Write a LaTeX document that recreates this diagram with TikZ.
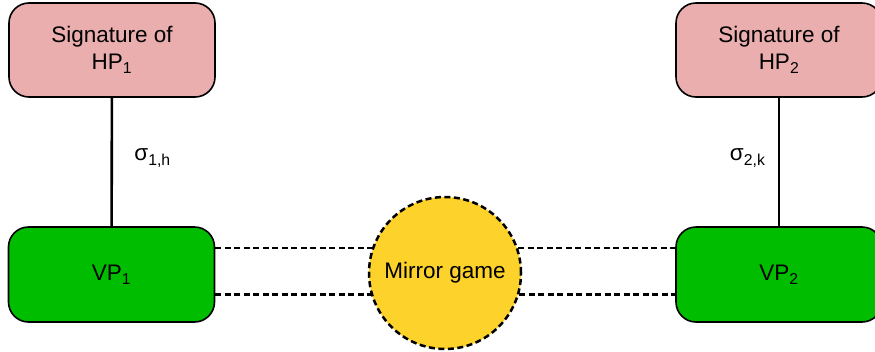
\documentclass[tikz,border=0pt]{standalone}
\usepackage{fontspec}
\setmainfont{Liberation Sans}
\definecolor{sigpink}{RGB}{234,174,174}
\definecolor{vpgreen}{RGB}{0,189,0}
\definecolor{mgyellow}{RGB}{253,210,42}
\begin{document}
\begin{tikzpicture}[x=1pt,y=-1pt,
  sigbox/.style={draw=black,line width=1.6pt,fill=sigpink,rounded corners=20pt,minimum width=206pt,minimum height=94pt,align=center,font=\fontsize{22.5}{27}\selectfont},
  vpbox/.style={draw=black,line width=1.6pt,fill=vpgreen,rounded corners=20pt,minimum width=206pt,minimum height=95pt,font=\fontsize{22.5}{27}\selectfont},
  mgcircle/.style={circle,draw=black,line width=2.5pt,dash pattern=on 6pt off 3.5pt,fill=mgyellow,minimum size=152pt,inner sep=0pt,font=\fontsize{22.5}{27}\selectfont},
  link/.style={draw=black,line width=2.6pt},
  dlink/.style={draw=black,line width=2.5pt,dash pattern=on 6pt off 3.5pt},
  siglabel/.style={font=\fontsize{22.5}{27}\selectfont}]
\useasboundingbox (0,0) rectangle (875,351);
\node[sigbox] (hp1) at (112,50) {Signature of\\HP\textsubscript{1}};
\node[sigbox] (hp2) at (779,50) {Signature of\\HP\textsubscript{2}};
\node[vpbox] (vp1) at (111.5,274.5) {VP\textsubscript{1}};
\node[vpbox] (vp2) at (779,274.5) {VP\textsubscript{2}};
\node[mgcircle] (mg) at (445,273) {Mirror game};
\draw[link] (hp1) -- node[pos=0.47,right=18pt,siglabel] {σ\textsubscript{1,h}} (vp1);
\draw[link] (hp2) -- node[pos=0.47,left=9pt,siglabel] {σ\textsubscript{2,k}} (vp2);
\draw[dlink] (vp1.east |- mg.161) -- (mg.161);
\draw[dlink] (vp1.east |- mg.196) -- (mg.196);
\draw[dlink] (mg.19) -- (vp2.west |- mg.19);
\draw[dlink] (mg.-16) -- (vp2.west |- mg.-16);
\end{tikzpicture}
\end{document}
